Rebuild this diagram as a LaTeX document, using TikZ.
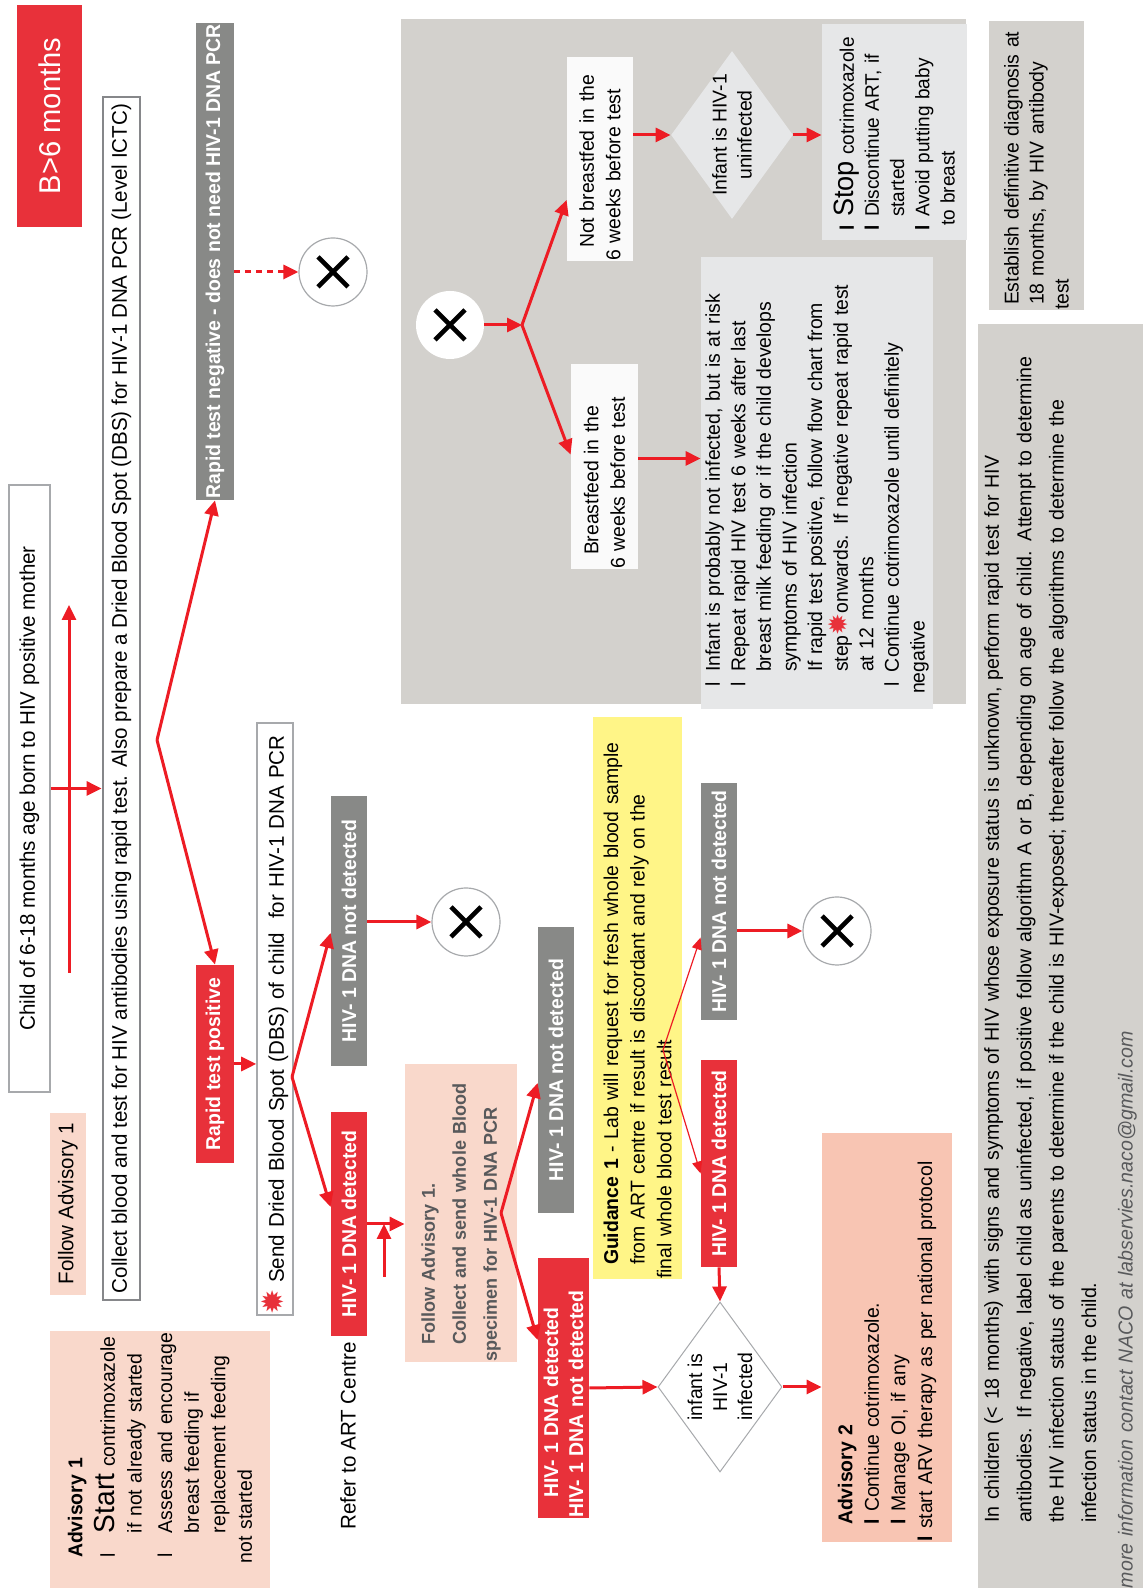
\documentclass[tikz,border=0pt]{standalone}
\usepackage{fontspec}
\setmainfont{Liberation Sans}[FakeStretch=0.97]
\newfontfamily\symfont{DejaVu Sans}
\usetikzlibrary{calc, arrows.meta, shapes.geometric}
\definecolor{arrred}{HTML}{ED1C24}
\definecolor{boxred}{HTML}{E8313A}
\definecolor{boxgrey}{HTML}{888987}
\definecolor{pinkfill}{HTML}{F9D8CB}
\definecolor{salmonfill}{HTML}{F8C5B3}
\definecolor{yellowfill}{HTML}{FFF587}
\definecolor{panelgrey}{HTML}{D3D1CD}
\definecolor{lightfill}{HTML}{E6E7E8}
\definecolor{offwhite}{HTML}{FAFAFA}
\definecolor{textgrey}{HTML}{58595B}
\definecolor{linegrey}{HTML}{A7A9AC}
\newcommand{\itm}[1]{\makebox[#1][l]{l}}
\newcommand{\bitm}[1]{\makebox[#1][l]{\textbf{l}}}
\tikzset{
    plainbox/.style={draw=linegrey, fill=white, line width=0.8pt, inner sep=0pt, font=\fontsize{10.6}{13}\selectfont},
    redbox/.style={fill=boxred, text=white, inner sep=0pt, font=\bfseries\fontsize{10}{12.5}\selectfont},
    greybox/.style={fill=boxgrey, text=white, inner sep=0pt, font=\bfseries\fontsize{10}{12.5}\selectfont},
    textbox/.style={inner xsep=0pt, inner ysep=0pt, align=left, font=\fontsize{10}{13.3}\selectfont},
    cross/.style={circle, fill=white, minimum size=34pt, inner sep=0pt,
        path picture={\draw[black, line width=2.3pt] ([shift={(-7.5pt,-7.5pt)}]path picture bounding box.center) -- ([shift={(7.5pt,7.5pt)}]path picture bounding box.center)
            ([shift={(-7.5pt,7.5pt)}]path picture bounding box.center) -- ([shift={(7.5pt,-7.5pt)}]path picture bounding box.center);}},
    diam/.style={diamond, inner sep=0pt},
    arr/.style={draw=arrred, line width=1.5pt, -{Triangle[length=7.5pt,width=7pt]}},
    thinarr/.style={draw=arrred, line width=0.6pt, -{Triangle[length=6pt,width=5pt]}},
    dotarr/.style={arr, dash pattern=on 3pt off 2.5pt},
}
\begin{document}
\begin{tikzpicture}[x=0.5pt, y=0.5pt, rotate=90, transform shape]
\useasboundingbox (0,0) rectangle (1588,-1143);
\node[fill=panelgrey, minimum width=342.5pt, minimum height=282.5pt] (panel) at (1226.5,-683.5) {};
\node[fill=boxred, text=white, minimum width=111pt, minimum height=32.5pt, font=\fontsize{15}{18}\selectfont] (months) at (1472,-49.5) {B>6 months};
\node[plainbox, minimum width=303.5pt, minimum height=20.5pt] (child) at (799.5,-29.5) {Child of 6-18 months age born to HIV positive mother};
\node[plainbox, draw=linegrey!80!black, line width=1.4pt, minimum width=601.5pt, minimum height=18.5pt] (collect) at (889.5,-121.5) {Collect blood and test for HIV antibodies using rapid test. Also prepare a Dried Blood Spot (DBS) for HIV-1 DNA PCR (Level ICTC)};
\node[greybox, minimum width=238.5pt, minimum height=19pt] (rneg) at (1326.5,-215) {Rapid test negative - does not need HIV-1 DNA PCR};
\node[cross, draw=linegrey, line width=0.6pt] (xa) at (1316,-333) {};
\node[redbox, minimum width=99pt, minimum height=19pt] (rpos) at (524,-215) {Rapid test positive};
\node[plainbox, text width=296pt, minimum height=18pt, align=left] (dbs) at (569,-275) {\leftskip=4pt{\symfont\fontsize{15}{15}\selectfont\color{boxred}✹} Send Dried Blood Spot (DBS) of child~ for HIV-1 DNA PCR};
\node[greybox, minimum width=135pt, minimum height=18pt] (nd1) at (657,-349) {HIV- 1 DNA not detected};
\node[cross, draw=linegrey, line width=0.6pt] (xb) at (666,-466) {};
\node[redbox, minimum width=112pt, minimum height=18pt] (det1) at (364,-349) {HIV- 1 DNA detected};
\node[font=\fontsize{10.6}{13}\selectfont] (refer) at (152,-348) {Refer to ART Centre};
\node[textbox, fill=pinkfill, text=textgrey, font=\bfseries\fontsize{9.3}{15.5}\selectfont, text width=149pt, minimum height=56pt] (fadv) at (375,-461) {\leftskip=8.5pt Follow Advisory 1.\\Collect and send whole Blood\\specimen for HIV-1 DNA PCR};
\node[greybox, minimum width=143pt, minimum height=18pt] (nd2) at (518,-556) {HIV- 1 DNA not detected};
\node[redbox, align=left, text width=130pt, minimum height=25.5pt] (det2) at (200,-563.5) {\leftskip=10pt HIV- 1 DNA detected\\HIV- 1 DNA not detected};
\node[textbox, fill=yellowfill, text width=281pt, minimum height=44.5pt] (guide) at (590,-637.5) {\leftskip=7pt\textbf{Guidance 1} - Lab will request for fresh whole blood sample\\from ART centre if result is discordant and rely on the\\final whole blood test result};
\node[greybox, minimum width=118.5pt, minimum height=18pt] (nd3) at (686.5,-719) {HIV- 1 DNA not detected};
\node[redbox, minimum width=103.5pt, minimum height=18pt] (det3) at (424.5,-719) {HIV- 1 DNA detected};
\node[cross, draw=linegrey, line width=0.6pt] (xc) at (657,-837) {};
\node[diam, draw=linegrey, fill=white, line width=0.5pt, minimum width=85pt, minimum height=62pt, label={[font=\fontsize{10}{12.5}\selectfont, align=center]center:infant is\\HIV-1\\infected}] (inf) at (201,-720) {};
\node[textbox, fill=salmonfill, text width=204.5pt, minimum height=65pt] (adv2) at (250.5,-887) {\leftskip=8.5pt\textbf{Advisory 2}\\\bitm{6.5pt}Continue cotrimoxazole.\\\bitm{6.5pt}Manage OI, if any\\\bitm{6.5pt}start ARV therapy as per national protocol};
\node[cross] (xd) at (1263,-450) {};
\node[textbox, fill=offwhite, text width=102pt, minimum height=33pt] (notbf) at (1429,-600) {\leftskip=6.5pt Not breastfed in the\\6 weeks before test};
\node[diam, fill=lightfill, minimum width=84pt, minimum height=61pt, label={[font=\fontsize{10}{12.5}\selectfont, align=center]center:Infant is HIV-1\\uninfected}] (uninf) at (1453,-732) {};
\node[textbox, fill=lightfill, text width=108pt, minimum height=72.5pt, font=\fontsize{9.8}{12.6}\selectfont] (stop) at (1456,-894.5) {\leftskip=4.5pt\bitm{7pt}{\fontsize{14}{14}\selectfont Stop} cotrimoxazole\\\bitm{7pt}Discontinue ART, if\\\hspace*{7pt}started\\\bitm{7pt}Avoid putting baby\\\hspace*{7pt}to breast};
\node[textbox, fill=offwhite, text width=102.5pt, minimum height=33.5pt] (bf) at (1121.5,-604.5) {\leftskip=7pt Breastfeed in the\\6 weeks before test};
\node[textbox, fill=lightfill, text width=226pt, minimum height=116pt, font=\fontsize{10}{12.8}\selectfont] (risk) at (1105,-817) {\leftskip=11pt\itm{7.5pt}Infant is probably not infected, but is at risk\\\itm{7.5pt}Repeat rapid HIV test 6 weeks after last\\\hspace*{7.5pt}breast milk feeding or if the child develops\\\hspace*{7.5pt}symptoms of HIV infection\\\hspace*{7.5pt}If rapid test positive, follow flow chart from\\\hspace*{7.5pt}step{\symfont\fontsize{13}{13}\selectfont\color{boxred}✹}onwards. If negative repeat rapid test\\\hspace*{7.5pt}at 12 months\\\itm{7.5pt}Continue cotrimoxazole until definitely\\\hspace*{7.5pt}negative};
\node[textbox, fill=panelgrey, text width=144.5pt, minimum height=47.5pt, font=\fontsize{10}{12.5}\selectfont] (estab) at (1422.5,-1036.5) {\leftskip=2.5pt Establish definitive diagnosis at\\18 months, by HIV antibody\\test};
\node[textbox, fill=panelgrey, text width=632pt, minimum height=82.5pt, font=\fontsize{10.1}{16.2}\selectfont] (note) at (632,-1060.5) {\leftskip=32.5pt In children (< 18 months) with signs and symptoms of HIV whose exposure status is unknown, perform rapid test for HIV\\antibodies. If negative, label child as uninfected, if positive follow algorithm A or B, depending on age of child. Attempt to determine\\the HIV infection status of the parents to determine if the child is HIV-exposed; thereafter follow the algorithms to determine the\\infection status in the child.\\[2pt]{\itshape\color{textgrey}more information contact NACO at labservies.naco@gmail.com}};
\node[fill=pinkfill, minimum width=91pt, minimum height=18pt, font=\fontsize{10.6}{13}\selectfont] (fadv1) at (384,-68) {Follow Advisory 1};
\node[textbox, fill=pinkfill, text width=128.5pt, minimum height=110pt] (adv1) at (128.5,-160) {\leftskip=15pt\textbf{Advisory 1}\\[3pt]\itm{12.5pt}{\fontsize{14.5}{14.5}\selectfont Start} contrimoxazole\\\hspace*{12.5pt}if not already started\\[2pt]\itm{12.5pt}Assess and encourage\\\hspace*{12.5pt}breast feeding if\\\hspace*{12.5pt}replacement feeding\\\hspace*{12.5pt}not started};
\coordinate (tl) at (615,-69);
\coordinate (tr) at (983,-69);
\coordinate (s1) at (848,-157);
\coordinate (s2) at (511,-292);
\coordinate (art) at (311,-384);
\coordinate (s3) at (375,-501);
\coordinate (s4) at (538,-663);
\coordinate (s5) at (1263,-522);
\coordinate (bfout) at ($(bf.south)+(8,0)$);
\draw[arr] (tl) -- (tr);
\draw[arr] (child.south) -- (child.south |- collect.north);
\draw[arr] (s1) -- (rneg.west);
\draw[arr] (s1) -- (rpos.east);
\draw[dotarr] (xa |- rneg.south) -- (xa);
\draw[arr] (rpos.south) -- (rpos.south |- dbs.north);
\draw[arr] (s2) -- ($(nd1.north)+(-2,0)$);
\draw[arr] (s2) -- ($(det1.north)+(17,0)$);
\draw[arr] (xb |- nd1.south) -- (xb);
\draw[arr] (det1.south) -- (det1.south |- fadv.north);
\draw[arr] (art) -- (det1.south |- art);
\draw[arr] (s3) -- ($(nd2.north)+(-13,0)$);
\draw[arr] (s3) -- ($(det2.north)+(48,0)$);
\draw[thinarr] (s4) -- ($(nd3.north)+(-36,0)$);
\draw[thinarr] (s4) -- ($(det3.north)+(-10,0)$);
\draw[arr] (xc |- nd3.south) -- (xc);
\draw[arr] (det2.south) -- (inf.north);
\draw[arr] (det3.west) -- (inf.east);
\draw[arr] (inf.south) -- (inf.south |- adv2.north);
\draw[arr] (xd) -- (s5);
\draw[arr] (s5) -- ($(notbf.north)+(-41,0)$);
\draw[arr] (s5) -- ($(bf.north)+(12,0)$);
\draw[arr] (uninf.north |- notbf.south) -- (uninf.north);
\draw[arr] (uninf.south) -- (uninf.south |- stop.north);
\draw[arr] (bfout) -- (bfout |- risk.north);
\end{tikzpicture}
\end{document}
